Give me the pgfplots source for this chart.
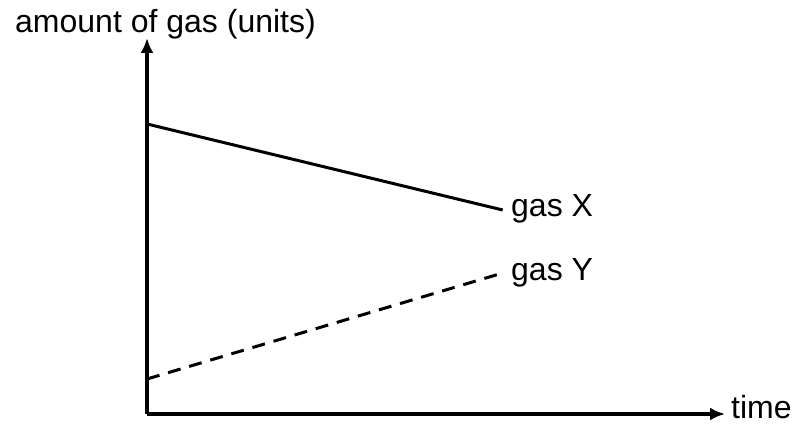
\documentclass[border=0pt]{standalone}
\usepackage{fontspec}
\setmainfont{Liberation Sans}
\usepackage{pgfplots}
\pgfplotsset{compat=1.18}
\usetikzlibrary{arrows.meta}
\begin{document}
\begin{tikzpicture}[x=1bp,y=1bp,font=\fontsize{32bp}{38bp}\selectfont]
\path[use as bounding box] (0,0) rectangle (796,424);
\begin{axis}[
  at={(147bp,10bp)}, anchor=origin,
  scale only axis, width=578bp, height=376bp,
  xmin=0, xmax=9.75, ymin=0, ymax=37.6,
  axis lines=left,
  every outer x axis line/.append style={line width=3.2bp, -{Latex[length=15bp,width=13bp]}},
  every outer y axis line/.append style={line width=3.2bp, -{Latex[length=15bp,width=13bp]}},
  ticks=none,
  clip=false,
]
\addplot[black, line width=3bp] coordinates {(0,29.0) (6,20.4)};
\addplot[black, line width=3bp, dash pattern=on 13bp off 9bp] coordinates {(0,3.5) (6,14.1)};
\end{axis}
\node[anchor=base west, inner sep=0] at (15,391) {amount of gas (units)};
\node[anchor=base west, inner sep=0] at (731,6) {time};
\node[anchor=base west, inner sep=0] at (511,208) {gas X};
\node[anchor=base west, inner sep=0] at (511,144) {gas Y};
\end{tikzpicture}
\end{document}
